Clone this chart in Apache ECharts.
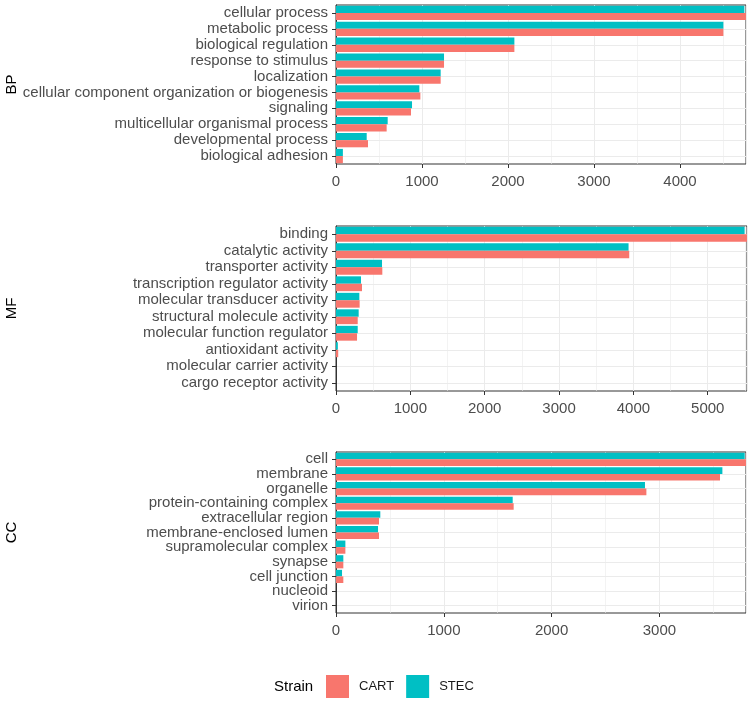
<!DOCTYPE html>
<html>
<head>
<meta charset="utf-8">
<script src="https://cdn.jsdelivr.net/npm/echarts@6/dist/echarts.min.js"></script>
<style>
  html, body { margin: 0; padding: 0; background: #fff; }
  #chart { width: 749px; height: 701px; }
</style>
</head>
<body>
<div id="chart"></div>
<script>
  // GO categories per panel (top to bottom) and gene counts per strain
  const bpTerms = ['cellular process', 'metabolic process', 'biological regulation', 'response to stimulus',
    'localization', 'cellular component organization or biogenesis', 'signaling',
    'multicellular organismal process', 'developmental process', 'biological adhesion'];
  const bpCart = [4767, 4504, 2074, 1256, 1217, 981, 872, 589, 372, 80];
  const bpStec = [4748, 4504, 2074, 1256, 1217, 969, 884, 601, 357, 80];

  const mfTerms = ['binding', 'catalytic activity', 'transporter activity', 'transcription regulator activity',
    'molecular transducer activity', 'structural molecule activity', 'molecular function regulator',
    'antioxidant activity', 'molecular carrier activity', 'cargo receptor activity'];
  const mfCart = [5528, 3944, 623, 350, 318, 292, 283, 30, 0, 0];
  const mfStec = [5496, 3935, 619, 336, 314, 305, 292, 25, 0, 0];

  const ccTerms = ['cell', 'membrane', 'organelle', 'protein-containing complex', 'extracellular region',
    'membrane-enclosed lumen', 'supramolecular complex', 'synapse', 'cell junction', 'nucleoid', 'virion'];
  const ccCart = [3803, 3562, 2879, 1648, 399, 399, 87, 68, 68, 0, 0];
  const ccStec = [3791, 3584, 2866, 1639, 411, 390, 87, 68, 56, 0, 0];

  const panelNames = ['BP', 'MF', 'CC'];
  const strains = ['CART', 'STEC'];
  const strainColors = { CART: '#F8766D', STEC: '#00BFC4' };

  const panels = [
    { terms: bpTerms, CART: bpCart, STEC: bpStec },
    { terms: mfTerms, CART: mfCart, STEC: mfStec },
    { terms: ccTerms, CART: ccCart, STEC: ccStec },
  ];

  const font = "'Liberation Sans', Arial, sans-serif";
  const gridBoxes = [
    { left: 336, top: 5, width: 410, height: 159 },
    { left: 336, top: 226, width: 411, height: 165 },
    { left: 336, top: 452, width: 410, height: 161 },
  ];

  const chart = echarts.init(document.getElementById('chart'));

  const grid = gridBoxes.map(b => ({
    ...b,
    containLabel: false,
    outerBoundsMode: 'none',
    show: true,
    borderColor: '#333333',
    borderWidth: 1,
    backgroundColor: 'transparent',
  }));

  const maxes = panels.map(p => Math.max(...p.CART, ...p.STEC));

  // main value axes (labels, ticks, major grid)
  const xMain = panels.map((p, i) => ({
    type: 'value',
    gridIndex: i,
    min: 0,
    max: maxes[i],
    interval: 1000,
    axisLine: { show: false },
    axisTick: { show: true, length: 4, lineStyle: { color: '#333333' } },
    axisLabel: {
      showMaxLabel: false,
      fontFamily: font,
      fontSize: 15,
      color: '#4D4D4D',
      margin: 10,
      formatter: v => String(v),
    },
    splitLine: { show: true, lineStyle: { color: '#EBEBEB', width: 1 } },
  }));

  // hidden axes carrying the minor (500) grid lines
  const xMinor = panels.map((p, i) => ({
    type: 'value',
    gridIndex: i,
    min: 0,
    max: maxes[i],
    interval: 500,
    position: 'top',
    axisLine: { show: false },
    axisTick: { show: false },
    axisLabel: { show: false },
    splitLine: { show: true, lineStyle: { color: '#EBEBEB', width: 0.6 } },
  }));

  const yAxes = panels.map((p, i) => ({
    type: 'category',
    gridIndex: i,
    data: p.terms,
    inverse: true,
    name: panelNames[i],
    nameLocation: 'middle',
    nameRotate: 90,
    nameGap: 317,
    nameMoveOverlap: false,
    nameTextStyle: { fontFamily: font, fontSize: 15, color: '#000' },
    axisLine: { show: true, lineStyle: { color: '#333333' } },
    axisTick: { show: true, length: 4, interval: 0, alignWithLabel: true, lineStyle: { color: '#333333' } },
    axisLabel: { interval: 0, fontFamily: font, fontSize: 15, color: '#4D4D4D', margin: 8 },
    splitLine: { show: true, interval: 0, alignWithLabel: true, lineStyle: { color: '#EBEBEB', width: 1 } },
  }));

  // STEC first so it sits above CART inside each category
  const seriesOrder = ['STEC', 'CART'];
  const series = [];
  panels.forEach((p, i) => {
    seriesOrder.forEach(s => {
      series.push({
        name: s,
        type: 'bar',
        xAxisIndex: i,
        yAxisIndex: i,
        data: p[s],
        barCategoryGap: '10%',
        barGap: '0%',
        itemStyle: { color: strainColors[s] },
      });
    });
  });

  const option = {
    animation: false,
    backgroundColor: '#fff',
    title: {
      text: 'Strain',
      left: 274,
      top: 679,
      padding: 0,
      textStyle: { fontFamily: font, fontSize: 15, fontWeight: 'normal', color: '#000' },
    },
    legend: {
      data: strains,
      left: 326,
      top: 675,
      padding: 0,
      icon: 'rect',
      itemWidth: 23,
      itemHeight: 23,
      itemGap: 12,
      textStyle: { fontFamily: font, fontSize: 13, color: '#1A1A1A', padding: [0, 0, 0, 5] },
    },
    grid,
    xAxis: [...xMain, ...xMinor],
    yAxis: yAxes,
    series,
  };

  chart.setOption(option);
</script>
</body>
</html>
